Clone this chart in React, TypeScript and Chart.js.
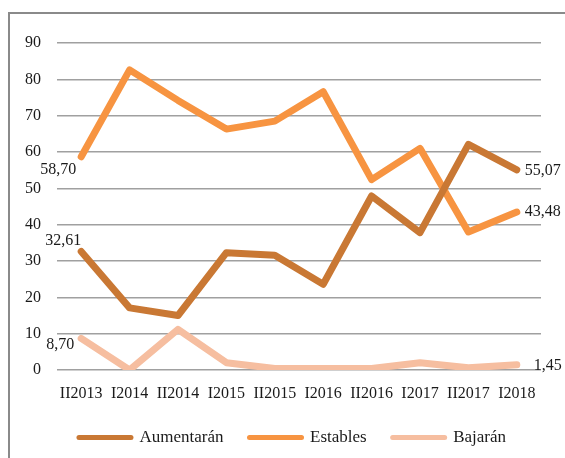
import React, { useEffect, useRef } from "react";
import { Chart, registerables } from "chart.js";

Chart.register(...registerables);

const categories = ["II2013", "I2014", "II2014", "I2015", "II2015", "I2016", "II2016", "I2017", "II2017", "I2018"];
const aumentaran = [32.61, 17.1, 15.0, 32.3, 31.6, 23.6, 47.9, 37.8, 62.1, 55.07];
const estables = [58.7, 82.6, 74.2, 66.3, 68.5, 76.6, 52.4, 61.0, 38.0, 43.48];
const bajaran = [8.7, 0.0, 11.2, 2.0, 0.4, 0.4, 0.4, 2.0, 0.6, 1.45];
const seriesNames = ["Aumentarán", "Estables", "Bajarán"];
const seriesColors = ["#C97834", "#F79441", "#F6BEA0"];
const yTicks = [0, 10, 20, 30, 40, 50, 60, 70, 80, 90];

const FONT = "'Liberation Serif', 'Times New Roman', serif";

// label offsets relative to point: [dx, dy, align]
const labelStyle: Record<string, [number, number, CanvasTextAlign]> = {
  "0-0": [-18, -11, "center"],
  "1-0": [-23, 13, "center"],
  "2-0": [-21, 6, "center"],
  "0-9": [8, 1, "left"],
  "1-9": [8, 0, "left"],
  "2-9": [17, 1, "left"],
};

const fmt = (v: number) => v.toFixed(2).replace(".", ",");

const framePlugin = {
  id: "frame",
  beforeDraw(chart: any) {
    const ctx = chart.ctx;
    ctx.save();
    ctx.strokeStyle = "#8a8a8a";
    ctx.lineWidth = 2;
    ctx.beginPath();
    ctx.moveTo(1, chart.height + 5);
    ctx.lineTo(1, 5);
    ctx.lineTo(chart.width + 5, 5);
    ctx.stroke();
    ctx.restore();
    // centre the legend on the full frame width rather than the padded area
    if (chart.legend) {
      chart.legend.right = chart.legend.left + chart.width + 12;
    }
  },
};

const labelPlugin = {
  id: "endLabels",
  afterDatasetsDraw(chart: any) {
    const ctx = chart.ctx;
    ctx.save();
    ctx.font = `16px ${FONT}`;
    ctx.fillStyle = "#1a1a1a";
    ctx.textBaseline = "middle";
    chart.data.datasets.forEach((ds: any, i: number) => {
      const meta = chart.getDatasetMeta(i);
      [0, ds.data.length - 1].forEach((j) => {
        const st = labelStyle[`${i}-${j}`];
        if (!st) return;
        const pt = meta.data[j];
        ctx.textAlign = st[2];
        ctx.fillText(fmt(ds.data[j]), pt.x + st[0], pt.y + st[1]);
      });
    });
    ctx.restore();
  },
};

export default function App() {
  const ref = useRef<HTMLCanvasElement>(null);
  useEffect(() => {
    if (!ref.current) return;
    const data = [aumentaran, estables, bajaran];
    const chart = new Chart(ref.current, {
      type: "line",
      data: {
        labels: categories,
        datasets: data.map((d, i) => ({
          label: seriesNames[i],
          data: d,
          borderColor: seriesColors[i],
          backgroundColor: seriesColors[i],
          borderWidth: 7,
          borderCapStyle: "round",
          borderJoinStyle: "round",
          pointRadius: 0,
          pointHoverRadius: 0,
          tension: 0,
        })),
      },
      options: {
        animation: false,
        responsive: false,
        maintainAspectRatio: false,
        layout: { padding: { top: 35, right: 24, left: 0, bottom: 2 } },
        scales: {
          x: {
            offset: true,
            grid: { display: false, drawTicks: false },
            border: { display: false },
            ticks: { font: { family: FONT, size: 16 }, color: "#1a1a1a", padding: 14, maxRotation: 0, autoSkip: false },
            afterFit: (s: any) => { s.height = 33; },
          },
          y: {
            min: 0,
            max: 90,
            afterBuildTicks: (s: any) => { s.ticks = yTicks.map((v) => ({ value: v })); },
            grid: { color: "#a0a0a0", lineWidth: 1.5, drawTicks: false },
            border: { display: false },
            ticks: { font: { family: FONT, size: 16 }, color: "#1a1a1a", padding: 16 },
            afterFit: (s: any) => { s.width = 49; },
          },
        },
        plugins: {
          legend: {
            position: "bottom",
            labels: {
              font: { family: FONT, size: 17 },
              color: "#1a1a1a",
              usePointStyle: true,
              pointStyleWidth: 52,
              padding: 26,
              generateLabels: (c: any) =>
                Chart.defaults.plugins.legend.labels.generateLabels(c).map((it: any) => ({
                  ...it,
                  pointStyle: "line",
                  lineWidth: 5,
                  lineCap: "round",
                })),
            },
          },
          tooltip: { enabled: false },
        },
      },
      plugins: [framePlugin, labelPlugin],
    } as any);
    return () => chart.destroy();
  }, []);
  return (
    <div style={{ position: "fixed", left: 8, top: 8, width: 557, height: 450, overflow: "hidden" }}>
      <canvas ref={ref} width={557} height={450} style={{ display: "block", width: 557, height: 450 }} />
    </div>
  );
}
